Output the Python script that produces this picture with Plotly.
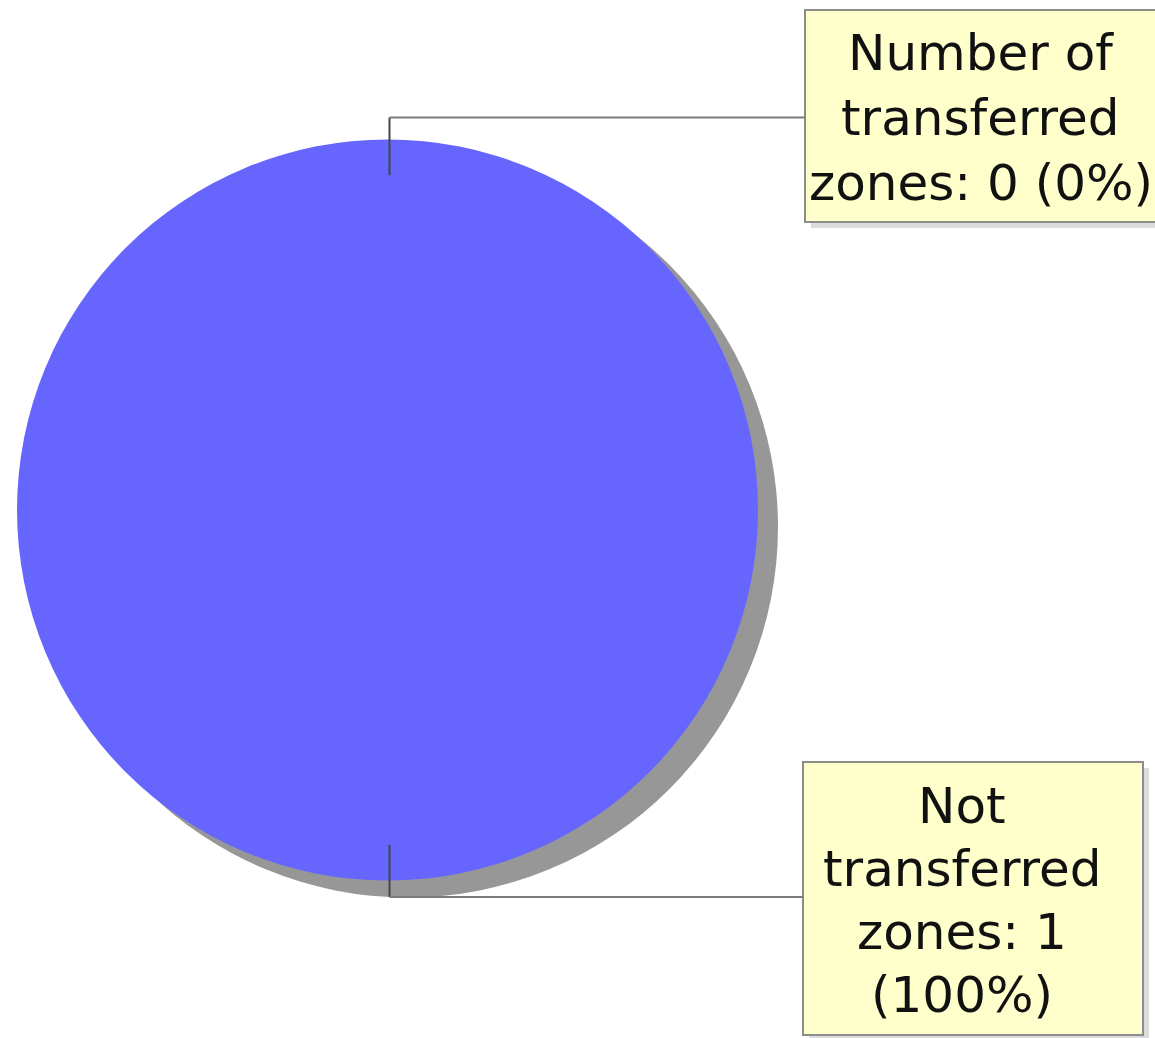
import math
import textwrap
import plotly.graph_objects as go

# Zone transfer summary
categories = ["Number of transferred zones", "Not transferred zones"]
zone_counts = [0, 1]

PIE_COLOR = "#6666FF"
SHADOW_COLOR = "#979797"
BOX_FILL = "#FFFFCC"
BOX_EDGE = "#8C8C8C"
LINK_COLOR = "#7A7A7A"
LINK_INNER = "#444444"

W, H = 1155, 1038


def px(x):
    return x / W


def py(y):
    return 1 - y / H


total = sum(zone_counts)
label_lines = []
for name, v in zip(categories, zone_counts):
    pct = 100 * v / total if total else 0
    label_lines.append(textwrap.wrap(f"{name}: {v} ({pct:.0f}%)", width=13))

# pie placement in pixels
pie_left, pie_right, pie_top, pie_bottom = 17, 758, 138, 882
shadow_dx, shadow_dy = 20, 17
cx = (pie_left + pie_right) / 2
cy = (pie_top + pie_bottom) / 2
radius = (pie_bottom - pie_top) / 2

fig = go.Figure()

# drop shadow behind the pie
fig.add_trace(go.Pie(
    values=[total],
    labels=["shadow"],
    marker=dict(colors=[SHADOW_COLOR], line=dict(width=0)),
    textinfo="none",
    hoverinfo="skip",
    sort=False,
    showlegend=False,
    domain=dict(x=[px(pie_left + shadow_dx), px(pie_right + shadow_dx)],
                y=[py(pie_bottom + shadow_dy), py(pie_top + shadow_dy)]),
))

fig.add_trace(go.Pie(
    values=zone_counts,
    labels=categories,
    marker=dict(colors=["#FF5555", PIE_COLOR], line=dict(width=0)),
    textinfo="none",
    sort=False,
    direction="clockwise",
    rotation=0,
    showlegend=False,
    domain=dict(x=[px(pie_left), px(pie_right)],
                y=[py(pie_bottom), py(pie_top)]),
))

# label boxes: (left, top, right, bottom, text centre x, first line centre y, line step)
boxes = [
    (805, 10, 1165, 222, 981, 53, 65),
    (803, 762, 1143, 1035, 962, 806, 63),
]

shapes = []
annotations = []

# leader lines: slice mid-angle -> elbow -> box
cum = 0
for i, v in enumerate(zone_counts):
    mid = (cum + v / 2) / total if total else 0
    cum += v
    # clockwise from 12 o'clock
    ang = math.pi / 2 - 2 * math.pi * mid
    inner = 0.9 * radius
    outer = 1.055 * radius
    x_in = cx + inner * math.cos(ang) + 2
    y_in = cy - inner * math.sin(ang)
    y_el = cy - outer * math.sin(ang)
    if i == 1:
        y_el = cy + radius + 15
    left = boxes[i][0]
    shapes.append(dict(type="line", xref="paper", yref="paper",
                       x0=px(x_in), y0=py(y_in), x1=px(x_in), y1=py(y_el),
                       line=dict(color=LINK_INNER, width=2)))
    shapes.append(dict(type="line", xref="paper", yref="paper",
                       x0=px(x_in), y0=py(y_el), x1=px(left), y1=py(y_el),
                       line=dict(color=LINK_COLOR, width=2)))

for (l, t, r, b, tx, ty, step), lines in zip(boxes, label_lines):
    # soft box shadow
    shapes.append(dict(type="rect", xref="paper", yref="paper",
                       x0=px(l + 6), y0=py(b + 6), x1=px(r + 6), y1=py(t + 6),
                       fillcolor="#DCDCDC", line=dict(width=0), layer="below"))
    shapes.append(dict(type="rect", xref="paper", yref="paper",
                       x0=px(l), y0=py(b), x1=px(r), y1=py(t),
                       fillcolor=BOX_FILL, line=dict(color=BOX_EDGE, width=2),
                       layer="below"))
    for k, line in enumerate(lines):
        annotations.append(dict(
            x=px(tx), y=py(ty + k * step), xref="paper", yref="paper",
            text=line, showarrow=False, xanchor="center", yanchor="middle",
            font=dict(family="DejaVu Sans", size=50, color="#111111"),
        ))

fig.update_layout(
    width=W, height=H,
    margin=dict(l=0, r=0, t=0, b=0),
    paper_bgcolor="white",
    plot_bgcolor="white",
    shapes=shapes,
    annotations=annotations,
)

fig.write_html("out.html")
